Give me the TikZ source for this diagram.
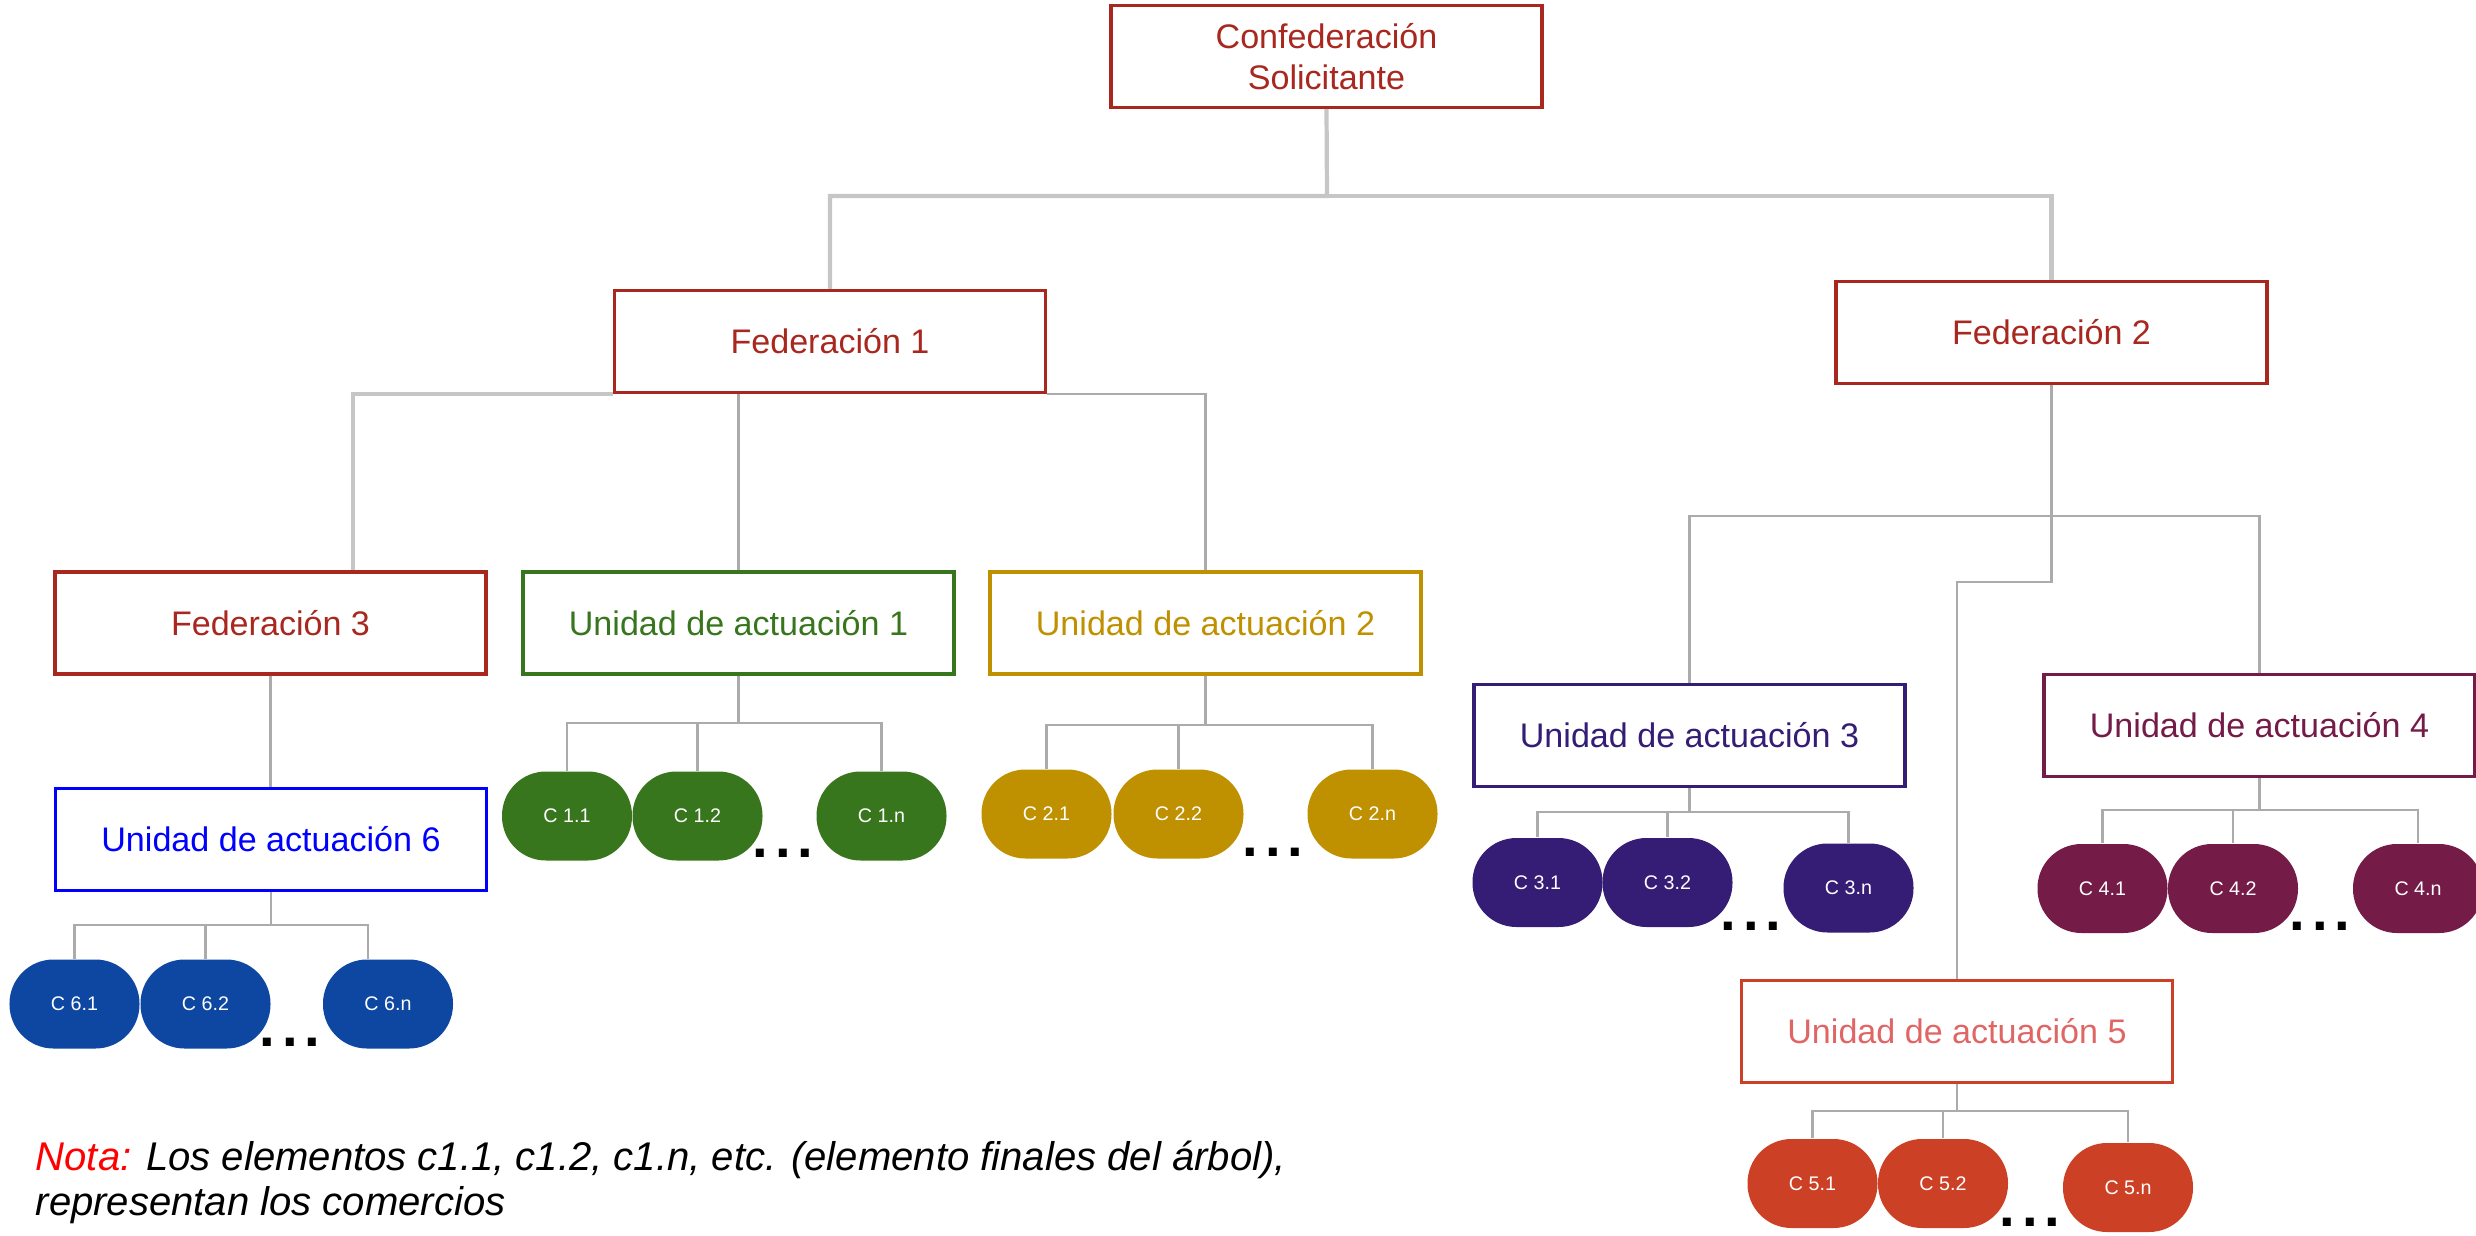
\documentclass[tikz,border=0pt]{standalone}
\usepackage{fontspec}
\setmainfont{Liberation Sans}
\usepackage{xcolor}
\usepackage{tikz}
\usetikzlibrary{positioning,calc}
\definecolor{fedred}{RGB}{168,40,32}
\definecolor{unigreen}{HTML}{38761D}
\definecolor{unigold}{HTML}{BF9000}
\definecolor{uniblue}{HTML}{0000FF}
\definecolor{pillblue}{HTML}{0D47A1}
\definecolor{unipurple}{HTML}{351C75}
\definecolor{unimaroon}{HTML}{741B47}
\definecolor{unicoral}{HTML}{CC4125}
\definecolor{coraltext}{HTML}{E06666}
\definecolor{linkgray}{HTML}{ABABAB}
\definecolor{linklight}{HTML}{C6C6C6}
\definecolor{notared}{HTML}{FF0000}
\newcommand{\puntos}{.\kern2pt.\kern2pt.}

\begin{document}
\begin{tikzpicture}[font=\fontsize{9.7}{11.6}\selectfont,
    caja/.style={draw=#1, text=#1, line width=0.9pt, minimum width=4.31cm, minimum height=1.02cm, inner sep=0pt, align=center},
    pill/.style={fill=#1, text=white, rounded corners=4.4mm, minimum width=1.3cm, minimum height=8.9mm, inner sep=0pt, font=\fontsize{5.6}{6.7}\selectfont},
    link/.style={draw=linkgray, line width=0.6pt},
    linkthick/.style={draw=linklight, line width=1.2pt},
    ellip/.style={anchor=base, inner sep=0pt, font=\fontsize{16}{16}\selectfont\bfseries}]

\useasboundingbox (0,0) rectangle (24.76,-12.35);

% nivel superior
\node[caja=fedred] (conf) at (13.265,-0.565) {Confederación\\Solicitante};
\node[caja=fedred] (f1) at (8.30,-3.415) {Federación 1};
\node[caja=fedred] (f2) at (20.515,-3.325) {Federación 2};

% rama de la federación 1
\node[caja=fedred] (f3) at (2.705,-6.23) {Federación 3};
\node[caja=unigreen] (u1) at (7.385,-6.23) {Unidad de actuación 1};
\node[caja=unigold] (u2) at (12.055,-6.23) {Unidad de actuación 2};
\node[caja=uniblue] (u6) at (2.71,-8.395) {Unidad de actuación 6};

% rama de la federación 2
\node[caja=unipurple] (u3) at (16.895,-7.355) {Unidad de actuación 3};
\node[caja=unimaroon] (u4) at (22.595,-7.255) {Unidad de actuación 4};
\node[caja=unicoral, text=coraltext] (u5) at (19.57,-10.315) {Unidad de actuación 5};

% comercios
\node[pill=unigreen] (c11) at (5.67,-8.16) {C 1.1};
\node[pill=unigreen] (c12) at (6.975,-8.16) {C 1.2};
\node[pill=unigreen] (c1n) at (8.815,-8.16) {C 1.n};

\node[pill=unigold] (c21) at (10.465,-8.14) {C 2.1};
\node[pill=unigold] (c22) at (11.785,-8.14) {C 2.2};
\node[pill=unigold] (c2n) at (13.725,-8.14) {C 2.n};

\node[pill=pillblue] (c61) at (0.745,-10.04) {C 6.1};
\node[pill=pillblue] (c62) at (2.055,-10.04) {C 6.2};
\node[pill=pillblue] (c6n) at (3.88,-10.04) {C 6.n};

\node[pill=unipurple] (c31) at (15.375,-8.825) {C 3.1};
\node[pill=unipurple] (c32) at (16.675,-8.825) {C 3.2};
\node[pill=unipurple] (c3n) at (18.485,-8.88) {C 3.n};

\node[pill=unimaroon] (c41) at (21.025,-8.885) {C 4.1};
\node[pill=unimaroon] (c42) at (22.33,-8.885) {C 4.2};
\node[pill=unimaroon] (c4n) at (24.18,-8.885) {C 4.n};

\node[pill=unicoral] (c51) at (18.125,-11.835) {C 5.1};
\node[pill=unicoral] (c52) at (19.43,-11.835) {C 5.2};
\node[pill=unicoral] (c5n) at (21.28,-11.875) {C 5.n};

% puntos suspensivos
\node[ellip] (d1) at (7.83,-8.575) {\puntos};
\node[ellip] (d2) at (12.73,-8.565) {\puntos};
\node[ellip] (d6) at (2.90,-10.465) {\puntos};
\node[ellip] (d3) at (17.51,-9.305) {\puntos};
\node[ellip] (d4) at (23.20,-9.305) {\puntos};
\node[ellip] (d5) at (20.30,-12.26) {\puntos};

% conectores
\coordinate (bconf) at (13.27,-1.96);
\draw[linkthick] (conf.south) -- (bconf) -| (f1.north);
\draw[linkthick] (bconf) -| (f2.north);

\draw[linkthick] (f1.south west) -| ([xshift=8.25mm]f3.north);
\draw[link] (f1.south -| u1.north) -- (u1.north);
\draw[link] (f1.south east) -| (u2.north);
\draw[link] (f3.south) -- (f3.south |- u6.north);

\coordinate (f2bus) at (20.515,-5.16);
\coordinate (f2bend) at (20.515,-5.82);
\draw[link] (f2.south) -- (f2bend) -| (u5.north);
\draw[link] (u3.north) |- (f2bus) -| (u4.north);

\coordinate (b1) at (7.385,-7.23);
\draw[link] (u1.south) -- (b1);
\draw[link] (c11.north) |- (b1) -| (c1n.north);
\draw[link] (c12.north) -- (c12.north |- b1);

\coordinate (b2) at (12.055,-7.25);
\draw[link] (u2.south) -- (b2);
\draw[link] (c21.north) |- (b2) -| (c2n.north);
\draw[link] (c22.north) -- (c22.north |- b2);

\coordinate (b6) at (2.71,-9.25);
\draw[link] (u6.south) -- (b6);
\draw[link] (c61.north) |- (b6) -| ([xshift=-2mm]c6n.north);
\draw[link] (c62.north) -- (c62.north |- b6);

\coordinate (b3) at (16.895,-8.12);
\draw[link] (u3.south) -- (b3);
\draw[link] (c31.north) |- (b3) -| (c3n.north);
\draw[link] (c32.north) -- (c32.north |- b3);

\coordinate (b4) at (22.595,-8.10);
\draw[link] (u4.south) -- (b4);
\draw[link] (c41.north) |- (b4) -| (c4n.north);
\draw[link] (c42.north) -- (c42.north |- b4);

\coordinate (b5) at (19.57,-11.11);
\draw[link] (u5.south) -- (b5);
\draw[link] (c51.north) |- (b5) -| (c5n.north);
\draw[link] (c52.north) -- (c52.north |- b5);

% nota
\node[anchor=north west, inner sep=0pt, align=left, font=\fontsize{11.4}{12.8}\selectfont\itshape] (nota) at (0.35,-11.40)
  {\textcolor{notared}{Nota:} Los elementos c1.1, c1.2, c1.n, etc. (elemento finales del árbol),\\representan los comercios};

\end{tikzpicture}
\end{document}
